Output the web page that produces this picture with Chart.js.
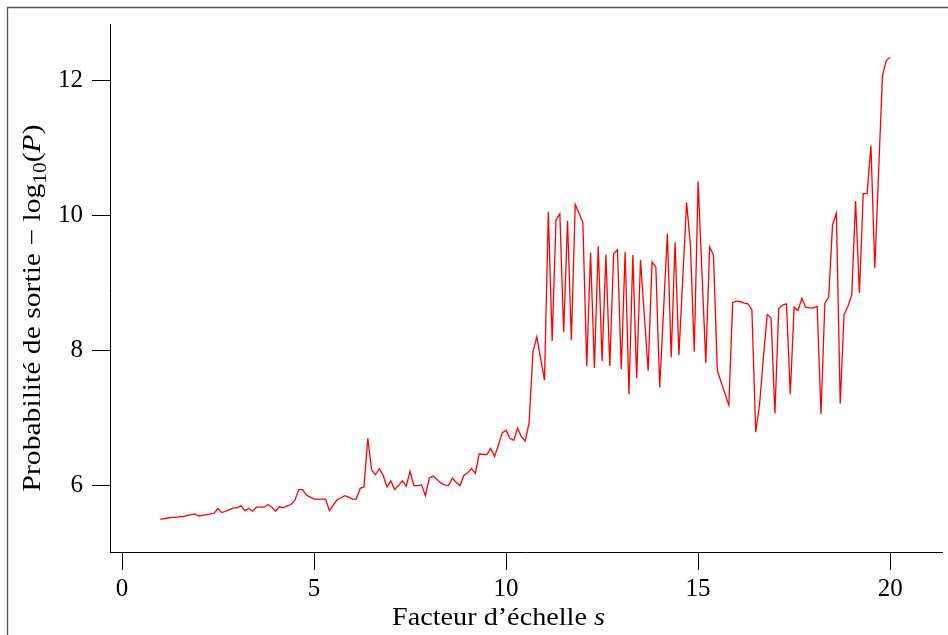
<!DOCTYPE html>
<html>
<head>
<meta charset="utf-8">
<script src="https://cdn.jsdelivr.net/npm/chart.js@4/dist/chart.umd.min.js"></script>
<style>
  html, body { margin: 0; padding: 0; background: #fff; }
  #wrap { width: 948px; height: 635px; position: relative; }
</style>
</head>
<body>
<div id="wrap"><canvas id="c" width="948" height="635"></canvas></div>
<script>
// ---- data ----
const scaleFactors = [
  1.0,1.1,1.2,1.3,1.4,1.5,1.6,1.7,1.8,1.9,
  2.0,2.1,2.2,2.3,2.4,2.5,2.6,2.7,2.8,2.9,
  3.0,3.1,3.2,3.3,3.4,3.5,3.6,3.7,3.8,3.9,
  4.0,4.1,4.2,4.3,4.4,4.5,4.6,4.7,4.8,4.9,
  5.0,5.1,5.2,5.3,5.4,5.5,5.6,5.7,5.8,5.9,
  6.0,6.1,6.2,6.3,6.4,6.5,6.6,6.7,6.8,6.9,
  7.0,7.1,7.2,7.3,7.4,7.5,7.6,7.7,7.8,7.9,
  8.0,8.1,8.2,8.3,8.4,8.5,8.6,8.7,8.8,8.9,
  9.0,9.1,9.2,9.3,9.4,9.5,9.6,9.7,9.8,9.9,
  10.0,10.1,10.2,10.3,10.4,10.5,10.6,10.7,10.8,10.9,
  11.0,11.1,11.2,11.3,11.4,11.5,11.6,11.7,11.8,11.9,
  12.0,12.1,12.2,12.3,12.4,12.5,12.6,12.7,12.8,12.9,
  13.0,13.1,13.2,13.3,13.4,13.5,13.6,13.7,13.8,13.9,
  14.0,14.1,14.2,14.3,14.4,14.5,14.6,14.7,14.8,14.9,
  15.0,15.1,15.2,15.3,15.4,15.5,15.6,15.7,15.8,15.9,
  16.0,16.1,16.2,16.3,16.4,16.5,16.6,16.7,16.8,16.9,
  17.0,17.1,17.2,17.3,17.4,17.5,17.6,17.7,17.8,17.9,
  18.0,18.1,18.2,18.3,18.4,18.5,18.6,18.7,18.8,18.9,
  19.0,19.1,19.2,19.3,19.4,19.5,19.6,19.7,19.8,19.9,
  20.0
];
const exitProbability = [
  5.50,5.51,5.52,5.53,5.53,5.54,5.54,5.56,5.57,5.58,
  5.55,5.56,5.57,5.58,5.59,5.66,5.60,5.62,5.645,5.67,
  5.67,5.70,5.63,5.66,5.62,5.68,5.68,5.68,5.72,5.68,
  5.62,5.69,5.67,5.70,5.72,5.78,5.94,5.94,5.86,5.83,
  5.80,5.80,5.80,5.80,5.63,5.71,5.79,5.82,5.85,5.83,
  5.80,5.80,5.96,5.98,6.70,6.23,6.16,6.25,6.15,5.98,
  6.07,5.94,6.00,6.07,5.99,6.21,6.00,6.00,6.01,5.85,
  6.11,6.14,6.09,6.04,6.01,6.00,6.11,6.05,6.00,6.15,
  6.19,6.25,6.18,6.47,6.46,6.46,6.55,6.43,6.60,6.78,
  6.82,6.70,6.67,6.85,6.72,6.66,6.93,7.98,8.20,7.88,
  7.56,10.05,8.14,9.93,10.02,8.27,9.92,8.15,10.16,10.03,
  9.89,7.77,9.45,7.74,9.54,7.84,9.42,7.77,9.43,9.49,
  7.72,9.46,7.35,9.41,7.59,9.34,8.52,7.70,9.31,9.23,
  7.45,8.59,9.73,7.90,9.60,7.93,9.06,10.19,9.56,7.98,
  10.50,9.15,7.81,9.53,9.41,7.70,7.53,7.36,7.19,8.71,
  8.73,8.72,8.70,8.69,8.60,6.79,7.20,7.90,8.53,8.48,
  7.07,8.62,8.67,8.69,7.35,8.64,8.59,8.77,8.64,8.63,
  8.63,8.65,7.06,8.70,8.79,9.86,10.03,7.21,8.53,8.65,
  8.82,10.21,8.85,10.32,10.32,11.03,9.22,10.65,12.07,12.29,
  12.34
];
const xTicks = [0, 5, 10, 15, 20];
const yTicks = [6, 8, 10, 12];
const xTitle = ["Facteur d’échelle ", "s"];
const yTitle = ["Probabilité de sortie − log", "10", "(", "P", ")"];

// ---- styling ----
const FONT = "'Liberation Serif', 'Times New Roman', serif";
const FS = 25;
const TFS = 25;

const points = scaleFactors.map((s, i) => ({ x: s, y: exitProbability[i] }));

const framePlugin = {
  id: 'frame',
  beforeDraw(chart) {
    const ctx = chart.ctx;
    ctx.save();
    ctx.fillStyle = '#fff';
    ctx.fillRect(0, 0, chart.width, chart.height);
    ctx.strokeStyle = '#555';
    ctx.lineWidth = 1.3;
    ctx.beginPath();
    ctx.moveTo(7.5, chart.height);
    ctx.lineTo(7.5, 7.5);
    ctx.lineTo(chart.width, 7.5);
    ctx.stroke();
    ctx.restore();
  }
};

function drawRun(ctx, parts, fonts, shifts, targetWidth) {
  const widths = parts.map((t, i) => { ctx.font = fonts[i]; return ctx.measureText(t).width; });
  const total = widths.reduce((a, b) => a + b, 0);
  const k = targetWidth / total;
  ctx.scale(k, 1);
  let px = -total / 2;
  parts.forEach((t, i) => {
    ctx.font = fonts[i];
    ctx.fillText(t, px, shifts[i]);
    px += widths[i];
  });
}

const titlePlugin = {
  id: 'titles',
  afterDraw(chart) {
    const ctx = chart.ctx;
    const normal = `${TFS}px ${FONT}`;
    const italic = `italic ${TFS}px ${FONT}`;
    const small = `${Math.round(TFS * 0.72)}px ${FONT}`;
    ctx.fillStyle = '#000';
    ctx.textBaseline = 'alphabetic';
    ctx.textAlign = 'left';
    // x title
    ctx.save();
    ctx.fillStyle = '#000';
    ctx.translate(498.5, 625);
    drawRun(ctx, xTitle, [normal, italic], [0, 0], 213);
    ctx.restore();
    // y title (rotated)
    ctx.save();
    ctx.fillStyle = '#000';
    ctx.translate(40, 308);
    ctx.rotate(-Math.PI / 2);
    drawRun(ctx, yTitle, [normal, small, normal, italic, normal], [0, 6, 0, 0, 0], 367);
    ctx.restore();
  }
};

new Chart(document.getElementById('c'), {
  type: 'line',
  data: {
    datasets: [{
      data: points,
      borderColor: '#ff0000',
      borderWidth: 1.3,
      pointRadius: 0,
      tension: 0,
      fill: false
    }]
  },
  options: {
    responsive: false,
    animation: false,
    layout: { padding: { top: 22, right: 6, left: 0, bottom: 0 } },
    plugins: { legend: { display: false }, tooltip: { enabled: false } },
    scales: {
      x: {
        type: 'linear',
        min: -0.3125,
        max: 21.35,
        afterBuildTicks: s => { s.ticks = xTicks.map(v => ({ value: v })); },
        afterFit: s => { s.height = 83; },
        grid: { drawOnChartArea: false, drawTicks: true, tickLength: 18, color: '#000', lineWidth: 1 },
        border: { display: true, color: '#000', width: 1 },
        ticks: { font: { family: FONT, size: FS }, color: '#000', padding: 4, maxRotation: 0, autoSkip: false }
      },
      y: {
        type: 'linear',
        min: 5.017,
        max: 12.83,
        afterBuildTicks: s => { s.ticks = yTicks.map(v => ({ value: v })); },
        afterFit: s => { s.width = 110; },
        grid: { drawOnChartArea: false, drawTicks: true, tickLength: 18, color: '#000', lineWidth: 1 },
        border: { display: true, color: '#000', width: 1 },
        ticks: { font: { family: FONT, size: FS }, color: '#000', padding: 9, autoSkip: false }
      }
    }
  },
  plugins: [framePlugin, titlePlugin]
});
</script>
</body>
</html>
